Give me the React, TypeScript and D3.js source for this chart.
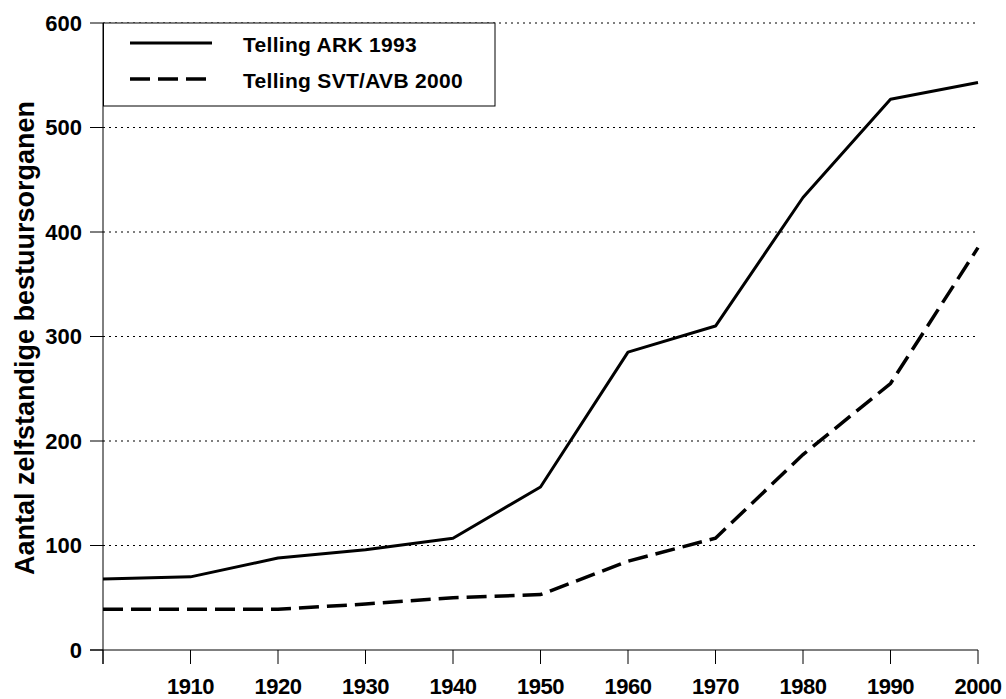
import React from "react";
import * as d3 from "d3";

const years = [1900, 1910, 1920, 1930, 1940, 1950, 1960, 1970, 1980, 1990, 2000];
const ark1993 = [68, 70, 88, 96, 107, 156, 285, 310, 433, 527, 543];
const svt2000 = [39, 39, 39, 44, 50, 53, 85, 107, 187, 255, 385];
const yTicks = [0, 100, 200, 300, 400, 500, 600];
const xTickLabels = ["", "1910", "1920", "1930", "1940", "1950", "1960", "1970", "1980", "1990", "2000"];
const seriesNames = ["Telling ARK 1993", "Telling SVT/AVB 2000"];

const W = 1006, H = 699;
const left = 103, right = 978, top = 23, bottom = 650;
const font = "Arial, 'Liberation Sans', sans-serif";

export default function App() {
  const x = d3.scaleLinear().domain([1900, 2000]).range([left, right]);
  const y = d3.scaleLinear().domain([0, 600]).range([bottom, top]);
  const line = d3.line<number>().x((_, i) => x(years[i])).y((d) => y(d));

  return (
    <svg width={W} height={H} style={{ position: "absolute", left: 0, top: 0, background: "#fff" }}>
      <rect x={0} y={0} width={W} height={H} fill="#fff" />
      {yTicks.filter((t) => t > 0).map((t) => (
        <line key={t} x1={left} x2={right} y1={y(t)} y2={y(t)} stroke="#000" strokeWidth={1.2} strokeDasharray="2,4" />
      ))}
      {/* axes */}
      <line x1={left} x2={left} y1={top} y2={bottom + 14} stroke="#000" strokeWidth={1} />
      <line x1={90} x2={right} y1={bottom} y2={bottom} stroke="#000" strokeWidth={1} />
      {yTicks.map((t) => (
        <g key={t}>
          <line x1={90} x2={left} y1={y(t)} y2={y(t)} stroke="#000" strokeWidth={1} />
          <text x={82} y={y(t)} dy="0.36em" textAnchor="end" fontFamily={font} fontWeight="bold" fontSize={22} letterSpacing={0}>
            {t}
          </text>
        </g>
      ))}
      {years.map((yr, i) => (
        <g key={yr}>
          <line x1={x(yr)} x2={x(yr)} y1={bottom} y2={bottom + 14} stroke="#000" strokeWidth={1} />
          <text x={x(yr)} y={694} textAnchor="middle" fontFamily={font} fontWeight="bold" fontSize={22} letterSpacing={-0.5}>
            {xTickLabels[i]}
          </text>
        </g>
      ))}
      <text
        transform={`translate(34, 338) rotate(-90)`}
        textAnchor="middle"
        fontFamily={font}
        fontWeight="bold"
        fontSize={27}
        letterSpacing={0}
      >
        Aantal zelfstandige bestuursorganen
      </text>
      {/* series */}
      <path d={line(ark1993) || ""} fill="none" stroke="#000" strokeWidth={3} strokeLinejoin="round" />
      <path d={line(svt2000) || ""} fill="none" stroke="#000" strokeWidth={3.5} strokeDasharray="20,8" />
      {/* legend */}
      <rect x={103.5} y={top} width={391.5} height={83} fill="#fff" stroke="#000" strokeWidth={1} />
      <line x1={130} x2={212} y1={43} y2={43} stroke="#000" strokeWidth={3} />
      <line x1={130} x2={212} y1={79} y2={79} stroke="#000" strokeWidth={3.5} strokeDasharray="20,8" />
      <text x={243} y={52} fontFamily={font} fontWeight="bold" fontSize={21} letterSpacing={0.3}>
        {seriesNames[0]}
      </text>
      <text x={243} y={88} fontFamily={font} fontWeight="bold" fontSize={21} letterSpacing={0.3}>
        {seriesNames[1]}
      </text>
    </svg>
  );
}
